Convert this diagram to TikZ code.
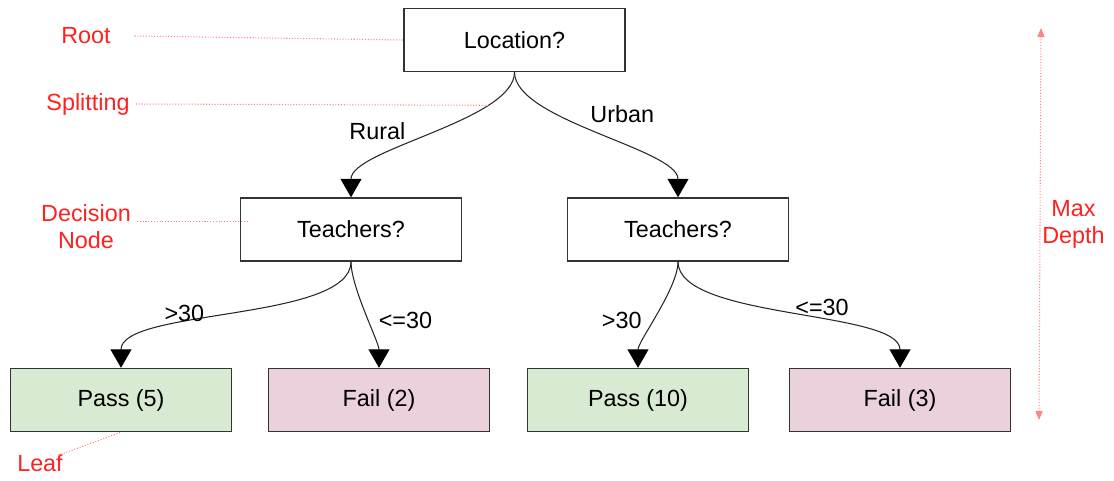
\documentclass[tikz,border=0pt]{standalone}
\usepackage{fontspec}
\setmainfont{Liberation Sans}
\usetikzlibrary{arrows.meta, positioning}
\definecolor{leafgreen}{HTML}{D9EAD3}
\definecolor{leafpink}{HTML}{EAD1DC}
\definecolor{notered}{HTML}{FF2020}

\begin{document}
\begin{tikzpicture}[x=0.02cm, y=-0.02cm, font=\fontsize{13.3}{15.4}\selectfont,
	box/.style={draw=black!80, line width=0.8pt, minimum width=4.42cm, minimum height=1.26cm},
	pass/.style={box, fill=leafgreen},
	fail/.style={box, fill=leafpink},
	branch/.style={-{Triangle[width=0.42cm, length=0.37cm, color=black]}, line width=0.6pt,
		every edge/.append style={draw=black!85, out=-90, in=90, looseness=0.6}},
	note/.style={text=notered, align=center},
	pointer/.style={draw=notered!55, densely dotted, line width=0.6pt}]
	\useasboundingbox (0,0) rectangle (1114,480);
	
	% Tree
	\node[box] (root) at (514.5,40) {Location?};
	\node[box] (teachL) at (351,229.5) {Teachers?};
	\node[box] (teachR) at (678,229.5) {Teachers?};
	\node[pass] (pass5) at (121,400) {Pass (5)};
	\node[fail] (fail2) at (379,400) {Fail (2)};
	\node[pass] (pass10) at (638,400) {Pass (10)};
	\node[fail] (fail3) at (900,400) {Fail (3)};
	
	% Branches
	\path[branch]
	(root.south) edge coordinate[pos=0.25] (splitpt)
		node[pos=0.5, left=12pt, yshift=2pt] {Rural} (teachL.north)
	edge node[pos=0.45, above right] {Urban} (teachR.north)
	(teachL.south) edge node[pos=0.59, above left, xshift=3pt, yshift=-4pt] {>30} (pass5.north)
	edge node[pos=0.55, right=3pt] {<=30} (fail2.north)
	(teachR.south) edge node[pos=0.55, left=4pt] {>30} (pass10.north)
	edge node[pos=0.5, above right, yshift=-4pt] {<=30} (fail3.north)
	;
	
	% Annotations
	\node[note] (rootnote) at (86,36) {Root};
	\node[note] (splitnote) at (88,104) {Splitting};
	\node[note] (decnote) at (86,227) {Decision\\Node};
	\node[note] (leafnote) at (40,463) {Leaf};
	\coordinate (depthtop) at (1041,28);
	\coordinate (depthbot) at (1039,420);
	
	\draw[pointer] ([xshift=10pt]rootnote.east) -- (root.west);
	\draw[pointer] (splitnote.east) -- (splitpt);
	\draw[pointer] ([yshift=3pt]decnote.east) -- ([yshift=3pt, xshift=4pt]decnote.east -| teachL.west);
	\draw[pointer] ([xshift=-6pt, yshift=-4pt]leafnote.north east) -- (pass5.south);
	\draw[pointer, {Triangle[width=4pt, length=5pt]}-{Triangle[width=4pt, length=5pt]}]
	(depthtop) -- node[note, inner sep=0pt, right=1pt] {Max\\Depth} (depthbot);
\end{tikzpicture}
\end{document}
